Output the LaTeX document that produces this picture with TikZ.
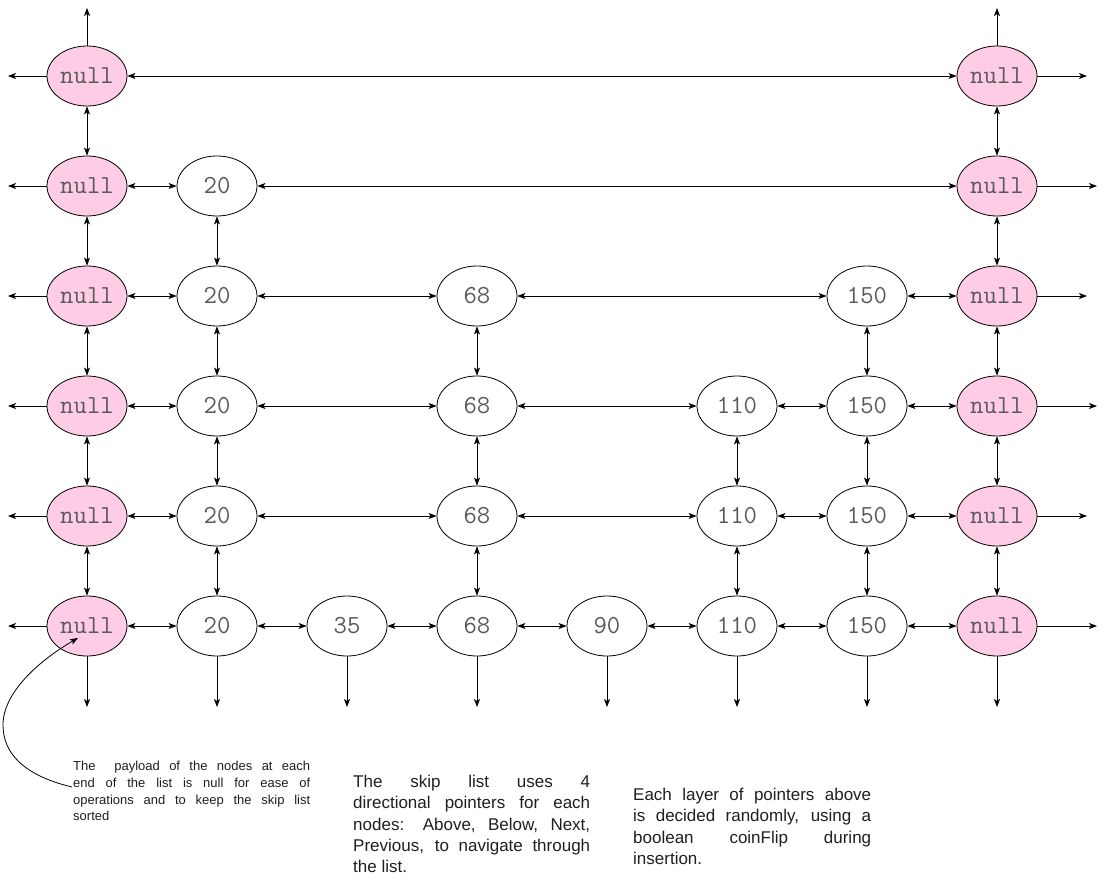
\documentclass[tikz,border=0pt]{standalone}
\usepackage{fontspec}
\setmainfont{Liberation Sans}
\usetikzlibrary{shapes.geometric,arrows.meta}
\definecolor{nullpink}{HTML}{FFCCE6}
\definecolor{valgray}{HTML}{5A5A5A}
\begin{document}
\begin{tikzpicture}[x=1pt,y=-1pt,
  tip/.tip={Stealth[length=8pt,width=6pt,inset=2pt]},
  sk/.style={ellipse,draw,line width=0.8pt,minimum width=80pt,minimum height=60pt,inner sep=0pt,
    font=\ttfamily\fontsize{26}{30}\selectfont,text=valgray},
  nl/.style={sk,fill=nullpink},
  link/.style={line width=0.8pt,tip-tip},
  stub/.style={line width=0.8pt,-tip},
  note/.style={anchor=north west,inner sep=0pt,align=justify,text=black!88}]
\useasboundingbox (0,0) rectangle (1106,888);
% nodes
\foreach \c/\x/\lab/\st/\top in {0/87/null/nl/0,1/217/20/sk/1,2/347/35/sk/5,3/477/68/sk/2,
    4/607/90/sk/5,5/737/110/sk/3,6/867/150/sk/2,7/997/null/nl/0}
  \foreach \r in {\top,...,5}
    \node[\st] (n\c-\r) at (\x,76+110*\r) {\lab};
% vertical links
\foreach \c/\top in {0/0,1/1,3/2,5/3,6/2,7/0}
  \foreach \r in {\top,...,4}{
    \pgfmathtruncatemacro{\s}{\r+1}
    \draw[link] (n\c-\r) -- (n\c-\s);
  }
% horizontal links
\foreach \r/\a/\b in {0/0/7,1/0/1,1/1/7,2/0/1,2/1/3,2/3/6,2/6/7,
    3/0/1,3/1/3,3/3/5,3/5/6,3/6/7,4/0/1,4/1/3,4/3/5,4/5/6,4/6/7,
    5/0/1,5/1/2,5/2/3,5/3/4,5/4/5,5/5/6,5/6/7}
  \draw[link] (n\a-\r) -- (n\b-\r);
% left and right stubs
\foreach \r/\rx in {0/1087,1/1097,2/1087,3/1097,4/1087,5/1097}{
  \coordinate (L\r) at (8,76+110*\r);
  \coordinate (R\r) at (\rx,76+110*\r);
  \draw[stub] (n0-\r) -- (L\r);
  \draw[stub] (n7-\r) -- (R\r);
}
% top stubs
\coordinate (T0) at (87,8);
\coordinate (T7) at (997,8);
\draw[stub] (n0-0) -- (T0);
\draw[stub] (n7-0) -- (T7);
% bottom stubs
\foreach \c/\x in {0/87,1/217,2/347,3/477,4/607,5/737,6/867,7/997}{
  \coordinate (B\c) at (\x,707);
  \draw[stub] (n\c-5) -- (B\c);
}
% notes
\node[note,text width=237pt,font=\fontsize{13}{16.7}\selectfont] (t1) at (73,761)
  {The\ \ payload of the nodes at each\linebreak end of the list is null for ease of\linebreak operations and to keep the skip list\linebreak sorted};
\node[note,text width=237pt,font=\fontsize{17}{21.3}\selectfont] (t2) at (353,775)
  {The skip list uses 4\linebreak directional pointers for each\linebreak nodes: Above, Below, Next,\linebreak Previous, to navigate through\linebreak the list.};
\node[note,text width=238pt,font=\fontsize{17}{21.3}\selectfont] (t3) at (633,788)
  {Each layer of pointers above\linebreak is decided randomly, using a\linebreak boolean coinFlip during\linebreak insertion.};
% annotation curve
\coordinate (c0) at (72,787);
\coordinate (c1) at (78,638);
\draw[stub] (c0) .. controls (22,775) and (3,752) .. (3,725) .. controls (3,692) and (40,660) .. (c1);
\end{tikzpicture}
\end{document}
